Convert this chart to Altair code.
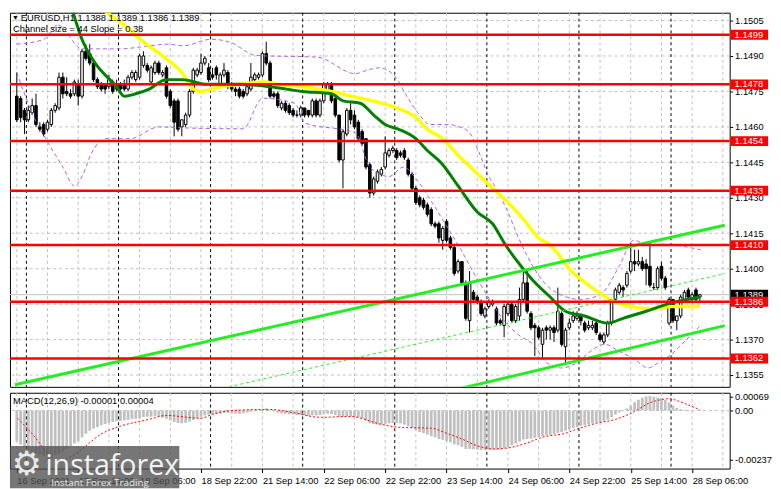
import altair as alt
import pandas as pd

# ---------------- data ----------------
opens = [1.1473,1.1472,1.1467,1.1463,1.1466,1.1469,1.1460,1.1461,1.1459,1.1461,
 1.1467,1.1468,1.1481,1.1475,1.1474,1.1474,1.1478,1.1473,1.1492,1.1491,
 1.1487,1.1480,1.1478,1.1478,1.1477,1.1479,1.1476,1.1478,1.1478,1.1476,
 1.1481,1.1480,1.1481,1.1486,1.1486,1.1479,1.1483,1.1487,1.1482,1.1485,
 1.1475,1.1471,1.1471,1.1460,1.1461,1.1465,1.1475,1.1482,1.1483,1.1487,
 1.1485,1.1482,1.1485,1.1478,1.1482,1.1483,1.1478,1.1476,1.1476,1.1475,
 1.1474,1.1476,1.1480,1.1481,1.1482,1.1491,1.1487,1.1474,1.1474,1.1468,
 1.1470,1.1469,1.1467,1.1465,1.1465,1.1468,1.1467,1.1465,1.1471,1.1465,
 1.1471,1.1475,1.1478,1.1472,1.1465,1.1446,1.1457,1.1467,1.1465,1.1462,
 1.1458,1.1455,1.1444,1.1432,1.1437,1.1440,1.1443,1.1448,1.1450,1.1450,
 1.1449,1.1450,1.1446,1.1440,1.1434,1.1430,1.1429,1.1427,1.1425,1.1419,
 1.1419,1.1412,1.1420,1.1413,1.1409,1.1399,1.1403,1.1394,1.1378,1.1390,
 1.1388,1.1386,1.1380,1.1384,1.1386,1.1383,1.1378,1.1376,1.1381,1.1385,
 1.1378,1.1380,1.1387,1.1394,1.1381,1.1376,1.1375,1.1368,1.1375,1.1374,
 1.1375,1.1374,1.1381,1.1367,1.1375,1.1378,1.1379,1.1380,1.1377,1.1375,
 1.1375,1.1377,1.1372,1.1369,1.1372,1.1377,1.1387,1.1390,1.1392,1.1393,
 1.1399,1.1403,1.1402,1.1403,1.1402,1.1401,1.1392,1.1392,1.1401,1.1396,
 1.1377,1.1387,1.1378,1.1380,1.1387,1.1391,1.1387,1.1391,1.1388]
highs = [1.1483,1.1473,1.1468,1.1469,1.1472,1.1474,1.1462,1.1462,1.1463,1.1468,
 1.1470,1.1483,1.1483,1.1481,1.1476,1.1480,1.1480,1.1493,1.1495,1.1495,
 1.1488,1.1481,1.1479,1.1478,1.1482,1.1480,1.1480,1.1479,1.1480,1.1482,
 1.1484,1.1484,1.1491,1.1492,1.1487,1.1486,1.1488,1.1488,1.1484,1.1486,
 1.1476,1.1472,1.1472,1.1463,1.1466,1.1476,1.1485,1.1485,1.1491,1.1490,
 1.1487,1.1485,1.1486,1.1483,1.1487,1.1484,1.1479,1.1477,1.1477,1.1476,
 1.1478,1.1487,1.1483,1.1483,1.1492,1.1496,1.1488,1.1475,1.1475,1.1471,
 1.1471,1.1470,1.1468,1.1467,1.1469,1.1468,1.1467,1.1472,1.1472,1.1472,
 1.1479,1.1479,1.1479,1.1473,1.1465,1.1459,1.1468,1.1470,1.1467,1.1463,
 1.1459,1.1455,1.1445,1.1439,1.1442,1.1443,1.1456,1.1451,1.1452,1.1451,
 1.1450,1.1451,1.1447,1.1441,1.1435,1.1431,1.1430,1.1428,1.1426,1.1420,
 1.1420,1.1418,1.1421,1.1414,1.1410,1.1404,1.1403,1.1395,1.1399,1.1391,
 1.1389,1.1387,1.1384,1.1387,1.1387,1.1384,1.1379,1.1385,1.1386,1.1386,
 1.1385,1.1392,1.1400,1.1400,1.1382,1.1377,1.1376,1.1375,1.1376,1.1376,
 1.1376,1.1392,1.1382,1.1375,1.1379,1.1382,1.1382,1.1381,1.1378,1.1378,
 1.1378,1.1378,1.1373,1.1373,1.1378,1.1387,1.1392,1.1394,1.1393,1.1399,
 1.1411,1.1408,1.1408,1.1405,1.1404,1.1411,1.1394,1.1401,1.1403,1.1397,
 1.1388,1.1387,1.1380,1.1389,1.1391,1.1392,1.1390,1.1392,1.1389]
lows = [1.1462,1.1462,1.1457,1.1462,1.1465,1.1460,1.1458,1.1456,1.1458,1.1460,
 1.1466,1.1467,1.1472,1.1473,1.1472,1.1473,1.1469,1.1472,1.1488,1.1486,
 1.1479,1.1476,1.1475,1.1474,1.1476,1.1474,1.1475,1.1475,1.1475,1.1475,
 1.1480,1.1479,1.1480,1.1485,1.1483,1.1478,1.1482,1.1482,1.1481,1.1472,
 1.1468,1.1456,1.1458,1.1456,1.1460,1.1464,1.1474,1.1481,1.1482,1.1486,
 1.1479,1.1480,1.1480,1.1477,1.1481,1.1476,1.1475,1.1473,1.1472,1.1472,
 1.1473,1.1475,1.1479,1.1480,1.1481,1.1486,1.1472,1.1472,1.1468,1.1467,
 1.1466,1.1465,1.1464,1.1464,1.1464,1.1464,1.1464,1.1464,1.1464,1.1464,
 1.1470,1.1474,1.1470,1.1464,1.1445,1.1434,1.1456,1.1461,1.1459,1.1454,
 1.1452,1.1442,1.1430,1.1431,1.1436,1.1439,1.1442,1.1447,1.1449,1.1446,
 1.1447,1.1446,1.1439,1.1433,1.1427,1.1426,1.1425,1.1422,1.1418,1.1417,
 1.1411,1.1408,1.1411,1.1408,1.1397,1.1398,1.1393,1.1378,1.1373,1.1386,
 1.1385,1.1380,1.1379,1.1383,1.1384,1.1376,1.1376,1.1371,1.1380,1.1377,
 1.1377,1.1378,1.1386,1.1381,1.1374,1.1363,1.1370,1.1362,1.1370,1.1370,
 1.1369,1.1373,1.1367,1.1360,1.1374,1.1377,1.1378,1.1376,1.1373,1.1374,
 1.1374,1.1372,1.1369,1.1368,1.1371,1.1376,1.1386,1.1389,1.1388,1.1392,
 1.1398,1.1399,1.1401,1.1399,1.1393,1.1392,1.1391,1.1391,1.1395,1.1391,
 1.1376,1.1377,1.1374,1.1379,1.1386,1.1387,1.1386,1.1386,1.1386]
closes = [1.1463,1.1464,1.1463,1.1467,1.1469,1.1461,1.1459,1.1457,1.1462,1.1467,
 1.1469,1.1481,1.1474,1.1474,1.1473,1.1479,1.1473,1.1492,1.1489,1.1487,
 1.1480,1.1477,1.1476,1.1476,1.1480,1.1475,1.1478,1.1476,1.1476,1.1481,
 1.1483,1.1483,1.1490,1.1490,1.1484,1.1485,1.1487,1.1483,1.1483,1.1473,
 1.1469,1.1462,1.1459,1.1463,1.1465,1.1475,1.1484,1.1484,1.1487,1.1489,
 1.1480,1.1481,1.1482,1.1482,1.1484,1.1477,1.1476,1.1475,1.1473,1.1473,
 1.1477,1.1481,1.1482,1.1482,1.1491,1.1487,1.1473,1.1473,1.1469,1.1470,
 1.1467,1.1466,1.1465,1.1465,1.1468,1.1465,1.1465,1.1471,1.1465,1.1471,
 1.1478,1.1478,1.1471,1.1465,1.1446,1.1458,1.1467,1.1463,1.1460,1.1455,
 1.1453,1.1443,1.1432,1.1438,1.1441,1.1442,1.1449,1.1450,1.1451,1.1447,
 1.1448,1.1447,1.1440,1.1434,1.1428,1.1427,1.1426,1.1423,1.1419,1.1418,
 1.1413,1.1417,1.1412,1.1409,1.1398,1.1403,1.1394,1.1379,1.1394,1.1387,
 1.1386,1.1381,1.1383,1.1386,1.1385,1.1377,1.1377,1.1384,1.1385,1.1378,
 1.1384,1.1387,1.1394,1.1382,1.1375,1.1375,1.1371,1.1374,1.1374,1.1375,
 1.1373,1.1382,1.1368,1.1374,1.1377,1.1380,1.1380,1.1378,1.1374,1.1376,
 1.1376,1.1373,1.1370,1.1372,1.1377,1.1386,1.1391,1.1393,1.1391,1.1398,
 1.1403,1.1402,1.1403,1.1400,1.1400,1.1393,1.1392,1.1400,1.1396,1.1392,
 1.1387,1.1378,1.1380,1.1388,1.1390,1.1388,1.1389,1.1387,1.1389]
bar_index = list(range(len(opens)))

# moving averages
green_i = [14,17,20,26,28,31,34.5,39,43,49.5,58,66,74.5,82,85,89.5,93,96,99.5,104,107,111,115,120,124,127,130,134,139,143,148,154,158,164,169.5,178]
green_v = [1.1512,1.1497,1.1488,1.1477,1.1473,1.1474,1.1476,1.1480,1.1480,1.1478,1.1478,1.1477,1.1475,1.1474,1.1471,1.1470,1.1465,1.1461,1.1459,1.1455,1.1450,1.1444,1.1435,1.1424,1.1419,1.1411,1.1404,1.1396,1.1388,1.1382,1.1380,1.1377,1.1379,1.1382,1.1385,1.1388]
yellow_i = [20,28,33,38,43,46,48,53,58,64.5,68,74.5,82,87,90,99,104,107,111,115,119.5,124,128,132,136,139,144.5,149,154.5,160,165,170.5,178]
yellow_v = [1.1512,1.1503,1.1496,1.1490,1.1483,1.1476,1.1475,1.1477,1.1478,1.1479,1.1478,1.1477,1.1475,1.1473,1.1472,1.1468,1.1464,1.1459,1.1455,1.1448,1.1441,1.1434,1.1428,1.1421,1.1413,1.1410,1.1399,1.1393,1.1387,1.1384,1.1383,1.1384,1.1384]

# envelope bands (purple dashed)
band_up_i = [0,7,10.75,17,27,33.25,39.5,43.25,50.75,55.75,62.4,78.25,88.25,91.25,94.5,96.5,98.75,101.25,104.5,107.75,112.75,115.25,117.75,120.25,122.75,125.25,128.75,130.25,134.5,139.5,147,152,157,160.75,164.5,169.5,178.25]
band_up_v = [1.1495,1.1497,1.1503,1.1493,1.1493,1.1494,1.1495,1.14943,1.14971,1.14957,1.14902,1.14895,1.14825,1.1484,1.1485,1.1484,1.1481,1.1474,1.1466,1.1461,1.1461,1.1460,1.1458,1.1450,1.1440,1.1433,1.1421,1.1415,1.1401,1.1391,1.1387,1.1389,1.1401,1.1412,1.1410,1.1410,1.1408]
band_lo_i = [0,4.5,8.25,12,15,17,19.5,23.25,29.5,37,43.25,59,64,72.5,75,88.25,92,97,100.75,104.5,108.25,112,115.75,119.5,123.25,127,130.75,134.5,138.25,142,145.75,149.5,153.25,157,160.75,164.5,167,170.75,174.5,178.25]
band_lo_v = [1.1483,1.1464,1.1453,1.1443,1.1435,1.1439,1.1449,1.1455,1.1455,1.1460,1.14596,1.14592,1.14721,1.14700,1.14617,1.14575,1.1443,1.1439,1.1443,1.1437,1.1428,1.1418,1.1408,1.1397,1.1387,1.1378,1.1372,1.1368,1.1360,1.1358,1.1360,1.1365,1.1368,1.1365,1.1362,1.1358,1.1360,1.1364,1.1370,1.1376]

# regression channel
chan_up_i, chan_up_v = [-0.5, 184.5], [1.13509, 1.14184]
chan_lo_i, chan_lo_v = [113.25, 184.5], [1.13484, 1.13759]
chan_mid_i, chan_mid_v = [55.25, 184.5], [1.13500, 1.13979]

# MACD
macd_hist = [-0.00150,-0.00165,-0.00178,-0.00190,-0.00200,-0.00208,-0.00214,-0.00218,-0.00220,-0.00220,
 -0.00216,-0.00208,-0.00198,-0.00186,-0.00172,-0.00160,-0.00150,-0.00130,-0.00112,-0.00098,
 -0.00088,-0.00080,-0.00072,-0.00066,-0.00060,-0.00056,-0.00052,-0.00050,-0.00048,-0.00045,
 -0.00042,-0.00040,-0.00036,-0.00032,-0.00030,-0.00030,-0.00028,-0.00030,-0.00034,-0.00040,
 -0.00048,-0.00056,-0.00060,-0.00062,-0.00060,-0.00054,-0.00046,-0.00038,-0.00030,-0.00024,
 -0.00020,-0.00018,-0.00016,-0.00015,-0.00012,-0.00012,-0.00014,-0.00015,-0.00016,-0.00014,
 -0.00010,-0.00006,-0.00004,-0.00002,0.00006,0.00010,0.00004,-0.00004,-0.00010,-0.00014,
 -0.00016,-0.00018,-0.00020,-0.00022,-0.00022,-0.00024,-0.00026,-0.00024,-0.00024,-0.00022,
 -0.00018,-0.00016,-0.00018,-0.00022,-0.00030,-0.00032,-0.00028,-0.00028,-0.00030,-0.00034,
 -0.00040,-0.00050,-0.00062,-0.00066,-0.00068,-0.00068,-0.00064,-0.00062,-0.00060,-0.00060,
 -0.00062,-0.00068,-0.00076,-0.00086,-0.00096,-0.00104,-0.00110,-0.00116,-0.00124,-0.00130,
 -0.00138,-0.00142,-0.00148,-0.00154,-0.00164,-0.00168,-0.00176,-0.00186,-0.00186,-0.00188,
 -0.00190,-0.00192,-0.00192,-0.00190,-0.00190,-0.00190,-0.00188,-0.00182,-0.00176,-0.00168,
 -0.00160,-0.00150,-0.00140,-0.00138,-0.00136,-0.00132,-0.00128,-0.00124,-0.00120,-0.00118,
 -0.00114,-0.00108,-0.00104,-0.00098,-0.00092,-0.00086,-0.00080,-0.00074,-0.00070,-0.00066,
 -0.00062,-0.00058,-0.00056,-0.00052,-0.00044,-0.00032,-0.00020,-0.00010,-0.00002,0.00010,
 0.00024,0.00040,0.00052,0.00062,0.00068,0.00070,0.00066,0.00062,0.00060,0.00052,
 0.00040,0.00024,0.00012,0.00006,0.00004,0.00002,0.00001,0.00000,-0.00001]
signal_i = [0.25,4.5,8,11,14.5,18,22,27,34.5,39,44.5,47.75,51,56,66,72,79,87,95,99.5,108,112,116,120,124.5,128,133,137,143,146,151,156,161,164.5,167.75,170,172.75,176,178]
signal_v = [-0.00038,-0.00124,-0.00205,-0.00243,-0.00219,-0.00171,-0.00114,-0.00076,-0.00043,-0.00024,-0.00033,-0.00038,-0.00019,0.0,0.00005,-0.00010,-0.00033,-0.00029,-0.00067,-0.00081,-0.00086,-0.00110,-0.00138,-0.00171,-0.00186,-0.00181,-0.00157,-0.00129,-0.00110,-0.00090,-0.00062,-0.00043,-0.00005,0.00033,0.00052,0.00057,0.00043,0.00019,0.00004]

# levels, ticks, labels
level_prices = [1.1499, 1.1478, 1.1454, 1.1433, 1.1410, 1.1386, 1.1362]
level_labels = ["1.1499", "1.1478", "1.1454", "1.1433", "1.1410", "1.1386", "1.1362"]
bid_price = [1.1389]
bid_label = ["1.1389"]
price_ticks = [1.1505, 1.1490, 1.1475, 1.1460, 1.1445, 1.1430, 1.1415, 1.1400, 1.1385, 1.1370, 1.1355]
macd_ticks = [0.00069, 0.0, -0.00237]
macd_tick_labels = ["0.00069", "0.00", "-0.00237"]
time_tick_index = [0, 16, 32, 48, 64, 80, 96, 112, 128, 144, 160, 176]
time_tick_labels = ["16 Sep 2021", "17 Sep 14:00", "18 Sep 06:00", "18 Sep 22:00", "21 Sep 14:00",
                    "22 Sep 06:00", "22 Sep 22:00", "23 Sep 14:00", "24 Sep 06:00", "24 Sep 22:00",
                    "25 Sep 14:00", "28 Sep 06:00"]
day_sep_index = [2.5, 26.5, 50.5, 74.5, 98.5, 122.5, 146.5, 170.5]
grid_index = list(range(0, 185, 8))
title_lines = ["EURUSD,H1  1.1388 1.1389 1.1386 1.1389", "Channel size = 44 Slope = 0.38"]
macd_title = ["MACD(12,26,9) -0.00001 0.00004"]
logo_text = ["instaforex", "Instant Forex Trading"]

# ---------------- chart ----------------
W = 731
H_MAIN = 380
H_MACD = 77
FONT = "Liberation Sans"
FS = 9.5

xs = alt.Scale(domain=[-0.5, 184.5], nice=False, zero=False)
ys = alt.Scale(domain=[1.1350, 1.15083], nice=False, zero=False)
ms = alt.Scale(domain=[-0.00281, 0.000857], nice=False, zero=False)

time_expr = "[" + ",".join("'" + s + "'" for s in time_tick_labels) + "][round(datum.value/16)]"
macd_expr = ("datum.value > 0.0003 ? '%s' : (datum.value < -0.001 ? '%s' : '%s')"
             % (macd_tick_labels[0], macd_tick_labels[2], macd_tick_labels[1]))

price_axis = alt.Axis(orient="right", values=price_ticks, format=".4f", grid=False, domain=False,
                      tickSize=3, labelPadding=2, labelOverlap=False, labelFlush=False, title=None)
macd_axis = alt.Axis(orient="right", values=macd_ticks, labelExpr=macd_expr, grid=False, domain=False,
                     tickSize=3, labelPadding=2, labelOverlap=False, labelFlush=False, title=None)
time_axis = alt.Axis(orient="bottom", values=time_tick_index, labelExpr=time_expr, labelAlign="left",
                     tickSize=4, domain=False, grid=False, labelPadding=3, labelOverlap=False,
                     labelFlush=False, title=None)


def X(field="i"):
    return alt.X(f"{field}:Q", scale=xs, axis=None)


def XM(field="i"):
    return alt.X(f"{field}:Q", scale=xs, axis=time_axis)


def Yp(field="p"):
    return alt.Y(f"{field}:Q", scale=ys, axis=price_axis)


def YM(field="v"):
    return alt.Y(f"{field}:Q", scale=ms, axis=macd_axis)


candles = pd.DataFrame({"i": bar_index, "o": opens, "h": highs, "l": lows, "c": closes})
candles["dir"] = ["up" if c >= o else "down" for o, c in zip(opens, closes)]

grid_v = alt.Chart(pd.DataFrame({"i": grid_index})).mark_rule(
    color="#c0c0c0", strokeDash=[3, 3], strokeWidth=1).encode(x=X())
grid_h = alt.Chart(pd.DataFrame({"p": price_ticks})).mark_rule(
    color="#c0c0c0", strokeDash=[3, 3], strokeWidth=1).encode(y=Yp())
seps = alt.Chart(pd.DataFrame({"i": day_sep_index})).mark_rule(
    color="black", strokeDash=[3, 3], strokeWidth=1).encode(x=X())
bid_line = alt.Chart(pd.DataFrame({"p": bid_price})).mark_rule(
    color="#c0c0c0", strokeWidth=1).encode(y=Yp())

wicks = alt.Chart(candles).mark_rule(color="black", strokeWidth=1, clip=True).encode(
    x=X(), y=Yp("l"), y2="h:Q")
bodies = alt.Chart(candles).mark_bar(size=2.6, stroke="black", strokeWidth=1, clip=True).encode(
    x=X(), y=Yp("o"), y2="c:Q",
    fill=alt.Fill("dir:N", scale=alt.Scale(domain=["up", "down"], range=["white", "black"]), legend=None))

bands = alt.Chart(pd.DataFrame({
    "i": band_up_i + band_lo_i, "p": band_up_v + band_lo_v,
    "b": ["u"] * len(band_up_i) + ["l"] * len(band_lo_i)})).mark_line(
    color="#b060e0", strokeDash=[4, 3], strokeWidth=1, clip=True, interpolate="monotone").encode(
    x=X(), y=Yp(), detail="b:N")

chan = alt.Chart(pd.DataFrame({
    "i": chan_up_i + chan_lo_i, "p": chan_up_v + chan_lo_v,
    "b": ["u", "u", "l", "l"]})).mark_line(color="#22ee22", strokeWidth=3, clip=True).encode(
    x=X(), y=Yp(), detail="b:N")
chan_mid = alt.Chart(pd.DataFrame({"i": chan_mid_i, "p": chan_mid_v})).mark_line(
    color="#22ee22", strokeWidth=1, strokeDash=[3, 3], clip=True).encode(x=X(), y=Yp())

yellow = alt.Chart(pd.DataFrame({"i": yellow_i, "p": yellow_v})).mark_line(
    color="#ffff00", strokeWidth=3.5, clip=True, interpolate="monotone").encode(x=X(), y=Yp())
green = alt.Chart(pd.DataFrame({"i": green_i, "p": green_v})).mark_line(
    color="#008000", strokeWidth=3, clip=True, interpolate="monotone").encode(x=X(), y=Yp())

levels_df = pd.DataFrame({"p": level_prices, "t": level_labels})
levels = alt.Chart(levels_df).mark_rule(color="#ff0000", strokeWidth=2.5).encode(y=Yp())

bid_df = pd.DataFrame({"p": bid_price, "t": bid_label})
bid_box = alt.Chart(bid_df).mark_rect(color="black", yOffset=-5, y2Offset=5).encode(
    x=alt.value(W + 1), x2=alt.value(W + 39), y=Yp(), y2="p:Q")
bid_txt = alt.Chart(bid_df).mark_text(align="left", baseline="middle", color="white",
                                      font=FONT, fontSize=FS).encode(
    x=alt.value(W + 5), y=Yp(), text="t:N")
lvl_box = alt.Chart(levels_df).mark_rect(color="#ff0000", yOffset=-5, y2Offset=5).encode(
    x=alt.value(W + 1), x2=alt.value(W + 39), y=Yp(), y2="p:Q")
lvl_txt = alt.Chart(levels_df).mark_text(align="left", baseline="middle", color="white",
                                         font=FONT, fontSize=FS).encode(
    x=alt.value(W + 5), y=Yp(), text="t:N")

tri = alt.Chart(pd.DataFrame({"t": ["\u25bc"]})).mark_text(
    align="left", baseline="top", fontSize=7, color="black").encode(
    x=alt.value(2), y=alt.value(1), text="t:N")
title1 = alt.Chart(pd.DataFrame({"t": [title_lines[0]]})).mark_text(
    align="left", baseline="top", font=FONT, fontSize=FS, color="black").encode(
    x=alt.value(11), y=alt.value(0), text="t:N")
title2 = alt.Chart(pd.DataFrame({"t": [title_lines[1]]})).mark_text(
    align="left", baseline="top", font=FONT, fontSize=FS, color="black").encode(
    x=alt.value(3), y=alt.value(12), text="t:N")

main = alt.layer(grid_h, grid_v, seps, bid_line, wicks, bodies, bands, yellow, green,
                 chan_mid, chan, levels, bid_box, bid_txt, lvl_box, lvl_txt,
                 tri, title1, title2).properties(width=W, height=H_MAIN)

# MACD panel
macd_df = pd.DataFrame({"i": bar_index, "v": macd_hist, "base": [0.0] * len(bar_index)})

m_grid = alt.Chart(pd.DataFrame({"i": grid_index})).mark_rule(
    color="#c0c0c0", strokeDash=[3, 3], strokeWidth=1).encode(x=XM())
m_seps = alt.Chart(pd.DataFrame({"i": day_sep_index})).mark_rule(
    color="black", strokeDash=[3, 3], strokeWidth=1).encode(x=XM())
m_zero = alt.Chart(pd.DataFrame({"v": [0.0]})).mark_rule(
    color="#c0c0c0", strokeDash=[3, 3], strokeWidth=1).encode(y=YM())
hist = alt.Chart(macd_df).mark_bar(size=2.8, color="#c0c0c0").encode(
    x=XM(), y=YM(), y2="base:Q")
signal = alt.Chart(pd.DataFrame({"i": signal_i, "v": signal_v})).mark_line(
    color="#ff0000", strokeDash=[2, 2], strokeWidth=1, interpolate="monotone").encode(
    x=XM(), y=YM())
m_title = alt.Chart(pd.DataFrame({"t": macd_title})).mark_text(
    align="left", baseline="top", font=FONT, fontSize=FS, color="black").encode(
    x=alt.value(3), y=alt.value(3), text="t:N")

logo_box = alt.Chart(pd.DataFrame({"t": ["box"]})).mark_rect(color="#505050", opacity=0.78).encode(
    x=alt.value(0), x2=alt.value(172), y=alt.value(54), y2=alt.value(97))
logo_gear = alt.Chart(pd.DataFrame({"t": ["\u2699"]})).mark_text(
    align="center", baseline="middle", font="DejaVu Sans", fontSize=34, color="#e8e8e8").encode(
    x=alt.value(17), y=alt.value(74), text="t:N")
logo_big = alt.Chart(pd.DataFrame({"t": [logo_text[0]]})).mark_text(
    align="left", baseline="alphabetic", font="Open Sans", fontSize=29, color="#f2f2f2").encode(
    x=alt.value(36), y=alt.value(84), text="t:N")
logo_small = alt.Chart(pd.DataFrame({"t": [logo_text[1]]})).mark_text(
    align="left", baseline="alphabetic", font="Open Sans", fontSize=10, color="#e8e8e8").encode(
    x=alt.value(42), y=alt.value(95), text="t:N")

macd = alt.layer(m_grid, m_seps, m_zero, hist, signal, m_title,
                 logo_box, logo_gear, logo_big, logo_small).properties(width=W, height=H_MACD)

chart = alt.vconcat(main, macd, spacing=3).properties(
    padding=0, background="white"
).configure_view(stroke="black", strokeWidth=1).configure_axis(
    labelFont=FONT, labelFontSize=FS, labelColor="black", tickColor="black"
)

chart.save("out.html", embed_options={"renderer": "svg", "actions": False})
